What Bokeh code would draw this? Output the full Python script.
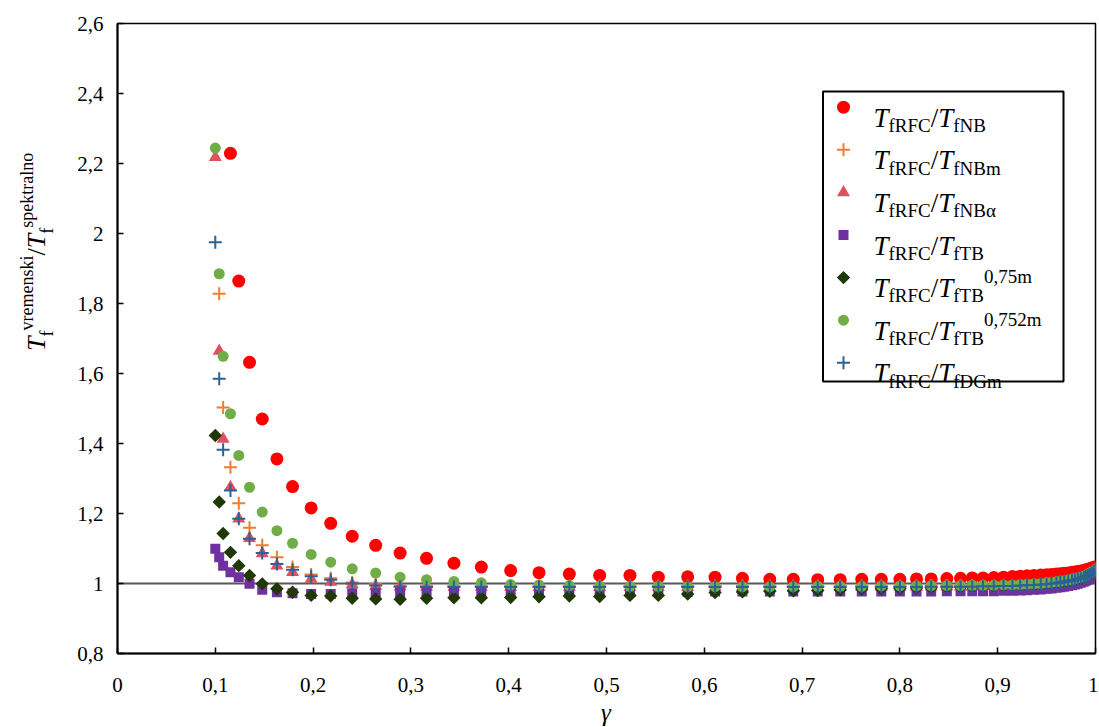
import math
import numpy as np
from bokeh.plotting import figure
from bokeh.layouts import row, column
from bokeh.models import (ColumnDataSource, Span, Label, BoxAnnotation, Div,
                          FixedTicker, CustomJSTickFormatter, Range1d)
from bokeh.embed import file_html
from bokeh.resources import INLINE

nan = float("nan")

# ---------------- data ----------------
GAMMA = [0.100, 0.104, 0.108, 0.1155, 0.124, 0.135, 0.148, 0.163, 0.179, 0.198,
         0.218, 0.240, 0.264, 0.289, 0.316, 0.344, 0.372, 0.402, 0.431, 0.462,
         0.493, 0.524, 0.553, 0.583, 0.611, 0.639, 0.667, 0.691, 0.716, 0.739,
         0.761, 0.781, 0.800, 0.817, 0.832, 0.848, 0.862, 0.874, 0.885, 0.896,
         0.906, 0.915, 0.923, 0.930, 0.937, 0.944, 0.950, 0.955, 0.960, 0.964,
         0.968, 0.972, 0.976, 0.979, 0.982, 0.985, 0.988, 0.990, 0.992, 0.994,
         0.996, 0.998, 1.000]

NB = [nan, nan, nan, 2.229, 1.864, 1.632, 1.470, 1.356, 1.277, 1.216,
      1.172, 1.135, 1.109, 1.087, 1.072, 1.058, 1.047, 1.037, 1.031, 1.027,
      1.023, 1.023, 1.018, 1.019, 1.018, 1.015, 1.012, 1.012, 1.011, 1.011,
      1.012, 1.012, 1.012, 1.013, 1.013, 1.014, 1.015, 1.016, 1.016, 1.017,
      1.018, 1.020, 1.021, 1.022, 1.023, 1.024, 1.025, 1.026, 1.027, 1.028,
      1.029, 1.030, 1.032, 1.033, 1.034, 1.036, 1.037, 1.039, 1.040, 1.042,
      1.044, 1.046, 1.048]

NBM = [nan, 1.828, 1.503, 1.332, 1.229, 1.159, 1.109, 1.075, 1.047, 1.026,
       1.015, 1.003, 0.998, 0.995, 0.994, 0.993, 0.993, 0.993, 0.993, 0.993,
       0.993, 0.993, 0.993, 0.993, 0.993, 0.993, 0.993, 0.993, 0.993, 0.993,
       0.993, 0.993, 0.993, 0.993, 0.994, 0.994, 0.994, 0.994, 0.994, 0.994,
       0.995, 0.995, 0.995, 0.996, 0.997, 0.998, 1.000, 1.001, 1.003, 1.004,
       1.006, 1.008, 1.010, 1.012, 1.014, 1.016, 1.019, 1.021, 1.024, 1.027,
       1.031, 1.035, 1.040]

NBA = [2.218, 1.664, 1.413, 1.275, 1.185, 1.129, 1.086, 1.051, 1.032, 1.013,
       1.004, 0.997, 0.993, 0.991, 0.990, 0.990, 0.990, 0.990, 0.990, 0.990,
       0.990, 0.990, 0.990, 0.990, 0.990, 0.990, 0.990, 0.990, 0.990, 0.990,
       0.990, 0.990, 0.990, 0.990, 0.991, 0.991, 0.991, 0.991, 0.992, 0.992,
       0.992, 0.992, 0.993, 0.994, 0.995, 0.996, 0.998, 0.999, 1.001, 1.002,
       1.004, 1.006, 1.008, 1.010, 1.012, 1.015, 1.017, 1.020, 1.023, 1.026,
       1.030, 1.034, 1.039]

TB = [1.099, 1.075, 1.051, 1.032, 1.018, 0.999, 0.982, 0.975, 0.972, 0.970,
      0.970, 0.972, 0.972, 0.973, 0.973, 0.973, 0.974, 0.974, 0.975, 0.975,
      0.976, 0.976, 0.976, 0.976, 0.977, 0.977, 0.977, 0.977, 0.977, 0.977,
      0.977, 0.977, 0.977, 0.977, 0.977, 0.978, 0.978, 0.978, 0.978, 0.978,
      0.979, 0.979, 0.980, 0.981, 0.982, 0.983, 0.985, 0.986, 0.988, 0.989,
      0.991, 0.993, 0.995, 0.997, 0.999, 1.002, 1.005, 1.008, 1.011, 1.015,
      1.020, 1.027, 1.035]

TB075 = [1.423, 1.233, 1.143, 1.089, 1.051, 1.023, 0.999, 0.985, 0.975, 0.966,
         0.964, 0.958, 0.956, 0.955, 0.958, 0.959, 0.959, 0.960, 0.962, 0.964,
         0.963, 0.966, 0.966, 0.970, 0.974, 0.976, 0.978, 0.979, 0.980, 0.982,
         0.984, 0.985, 0.986, 0.987, 0.988, 0.989, 0.990, 0.991, 0.992, 0.992,
         0.993, 0.994, 0.995, 0.996, 0.997, 0.998, 0.999, 1.001, 1.002, 1.004,
         1.005, 1.007, 1.009, 1.011, 1.013, 1.015, 1.018, 1.020, 1.023, 1.026,
         1.030, 1.034, 1.039]

TB0752 = [2.244, 1.885, 1.649, 1.485, 1.366, 1.275, 1.204, 1.151, 1.115, 1.083,
          1.061, 1.042, 1.030, 1.018, 1.011, 1.006, 1.002, 0.997, 0.996, 0.994,
          0.993, 0.992, 0.992, 0.991, 0.991, 0.991, 0.991, 0.991, 0.992, 0.992,
          0.992, 0.993, 0.993, 0.993, 0.994, 0.994, 0.994, 0.995, 0.995, 0.995,
          0.996, 0.996, 0.997, 0.998, 0.999, 1.000, 1.002, 1.003, 1.005, 1.006,
          1.008, 1.010, 1.012, 1.014, 1.016, 1.018, 1.021, 1.023, 1.026, 1.029,
          1.032, 1.036, 1.040]

DGM = [1.975, 1.585, 1.382, 1.266, 1.185, 1.128, 1.087, 1.056, 1.039, 1.021,
       1.011, 1.000, 0.994, 0.991, 0.990, 0.990, 0.990, 0.990, 0.990, 0.990,
       0.990, 0.990, 0.990, 0.990, 0.990, 0.990, 0.990, 0.990, 0.990, 0.990,
       0.990, 0.990, 0.990, 0.990, 0.991, 0.991, 0.991, 0.991, 0.992, 0.992,
       0.993, 0.993, 0.994, 0.995, 0.996, 0.997, 0.998, 1.000, 1.001, 1.003,
       1.005, 1.007, 1.009, 1.011, 1.013, 1.015, 1.018, 1.020, 1.023, 1.026,
       1.030, 1.034, 1.039]

X_TICKS = [0.0, 0.1, 0.2, 0.3, 0.4, 0.5, 0.6, 0.7, 0.8, 0.9, 1.0]
X_TICK_LABELS = ["0", "0,1", "0,2", "0,3", "0,4", "0,5", "0,6", "0,7", "0,8", "0,9", "1"]
Y_TICKS = [0.8, 1.0, 1.2, 1.4, 1.6, 1.8, 2.0, 2.2, 2.4, 2.6]
Y_TICK_LABELS = ["0,8", "1", "1,2", "1,4", "1,6", "1,8", "2", "2,2", "2,4", "2,6"]

X_TITLE = "γ"
# y title pieces: (text, kind) kind: i = italic main, n = normal main, sub, sup
Y_TITLE = [("T", "i"), ("f", "sub"), ("vremenski", "sup"), ("/", "n"),
           ("T", "i"), ("f", "sub"), ("spektralno", "sup")]

# legend texts: (subscript of denominator, optional superscript)
LEG_NUM_SUB = "fRFC"
LEG_SUB = ["fNB", "fNBm", "fNBα", "fTB", "fTB", "fTB", "fDGm"]
LEG_SUP = ["", "", "", "", "0,75m", "0,752m", ""]

# ---------------- styles ----------------
SERIES = [
    (NB,     dict(marker="circle", size=13, fill_color="#FF0000", line_color=None)),
    (NBM,    dict(marker="cross", size=13, line_color="#ED7D31", line_width=2)),
    (NBA,    dict(marker="triangle", size=13, fill_color="#DF5060", line_color=None)),
    (TB,     dict(marker="square", size=10, fill_color="#7030A0", line_color=None)),
    (TB075,  dict(marker="square", size=9.5, angle=math.pi / 4, fill_color="#1F3804", line_color=None)),
    (TB0752, dict(marker="circle", size=11, fill_color="#70AD47", line_color=None)),
    (DGM,    dict(marker="cross", size=13, line_color="#2A6196", line_width=2)),
]

FONT = "Liberation Serif"
TOTAL_W, TOTAL_H = 1098, 726
DIV_W = 56
FIG_H = 705
W = TOTAL_W - DIV_W
FRAME_L, FRAME_T, FRAME_R, FRAME_B = 117, 23, 1095, 653   # page pixels
B_LEFT = FRAME_L - DIV_W
B_TOP = FRAME_T
B_RIGHT = TOTAL_W - FRAME_R
B_BOTTOM = FIG_H - FRAME_B
FRAME_W = FRAME_R - FRAME_L
FRAME_H = FRAME_B - FRAME_T

p = figure(width=W, height=FIG_H, x_range=Range1d(0, 1), y_range=Range1d(0.8, 2.6),
           output_backend="svg", toolbar_location=None,
           min_border_left=B_LEFT, min_border_right=B_RIGHT,
           min_border_top=B_TOP, min_border_bottom=B_BOTTOM)
p.xgrid.visible = False
p.ygrid.visible = False
p.outline_line_color = "black"
p.outline_line_alpha = 1.0
p.outline_line_width = 1.5
p.background_fill_color = "white"
p.border_fill_color = "white"

for ax, ticks, labels in ((p.xaxis[0], X_TICKS, X_TICK_LABELS), (p.yaxis[0], Y_TICKS, Y_TICK_LABELS)):
    ax.ticker = FixedTicker(ticks=ticks)
    ax.formatter = CustomJSTickFormatter(args=dict(tv=ticks, tl=labels), code="""
        for (let i = 0; i < tv.length; i++) { if (Math.abs(tv[i] - tick) < 1e-9) return tl[i]; }
        return '';""")
    ax.axis_line_color = "black"
    ax.axis_line_width = 2
    ax.major_tick_line_color = "black"
    ax.major_tick_line_width = 1.5
    ax.major_tick_in = 6
    ax.major_tick_out = 0
    ax.minor_tick_line_color = None
    ax.major_label_text_font = FONT
    ax.major_label_text_font_size = "21px"
    ax.major_label_text_color = "black"
p.xaxis.major_label_standoff = 24
p.yaxis.major_label_standoff = 14

# horizontal reference line at 1
p.add_layout(Span(location=1.0, dimension="width", line_color="#595959", line_width=2, level="underlay"))

src = ColumnDataSource(dict(g=GAMMA, NB=NB, NBM=NBM, NBA=NBA, TB=TB, TB075=TB075, TB0752=TB0752, DGM=DGM))
names = ["NB", "NBM", "NBA", "TB", "TB075", "TB0752", "DGM"]
for name, (vals, st) in zip(names, SERIES):
    p.scatter(x="g", y=name, source=src, **st)

# ---------------- helpers for rich text (page pixel -> data) ----------------
def gx(px):
    return (px - FRAME_L) / FRAME_W

def gy(py):
    return 2.6 - (py - FRAME_T) * 1.8 / FRAME_H

W_REG = {"f": 0.333, "R": 0.667, "F": 0.556, "C": 0.667, "N": 0.722, "B": 0.667,
         "m": 0.778, "T": 0.611, "D": 0.722, "G": 0.722, "α": 0.52, ",": 0.25,
         "/": 0.278}
W_IT = {"T": 0.556}

def tw(text, size, italic):
    tab = W_IT if italic else W_REG
    return sum(tab.get(c, 0.5) for c in text) * size

def lab(px, py, text, size, italic):
    p.add_layout(Label(x=gx(px), y=gy(py), text=text, text_font=FONT,
                       text_font_size=f"{size}px",
                       text_font_style="italic" if italic else "normal",
                       text_color="black", text_align="left",
                       text_baseline="alphabetic"))

BIG, SMALL = 27, 19
SUB, SUP = 7.7, -11.7

def rich(pieces, px, py):
    pos = 0.0
    for text, size, italic, shift in pieces:
        lab(px + pos, py + shift, text, size, italic)
        pos += tw(text, size, italic)

# ---------------- legend ----------------
p.add_layout(BoxAnnotation(left=gx(822.5), right=gx(1063), top=gy(91), bottom=gy(381),
                           fill_color="white", fill_alpha=1.0, line_color="black",
                           line_alpha=1.0, line_width=2, level="underlay"))
for i, ((vals, st), sub, sup) in enumerate(zip(SERIES, LEG_SUB, LEG_SUP)):
    yc = 106.7 + 42.6 * i
    p.scatter(x=[gx(843)], y=[gy(yc)], **st)
    pieces = [("T", BIG, True, 0), (LEG_NUM_SUB, SMALL, False, SUB), ("/", BIG, False, 0),
              ("T", BIG, True, 0), (sub, SMALL, False, SUB)]
    if sup:
        pieces.append((sup, SMALL, False, SUP))
    rich(pieces, 873, yc + 10.6)

# ---------------- y title as rotated rich HTML text ----------------
span_style = {
    "i": "font-style:italic;font-size:26px;",
    "n": "font-size:26px;",
    "sub": "font-size:18px;vertical-align:-7.7px;",
    "sup": "font-size:18px;vertical-align:11.7px;",
}
inner = "".join(f'<span style="{span_style[k]}line-height:1;">{t}</span>' for t, k in Y_TITLE)
html = ('<div style="margin:0;padding:0;position:absolute;left:17px;top:152px;width:40px;height:200px;'
        'writing-mode:vertical-rl;text-orientation:sideways;transform:rotate(180deg);'
        "font-family:'Liberation Serif',serif;font-size:26px;line-height:40px;white-space:nowrap;"
        'color:#000;text-align:center;">' + inner + '</div>')
ydiv = Div(text=html, width=DIV_W, height=FIG_H, margin=0,
           styles={"overflow": "visible", "position": "relative"})

# ---------------- x title (below the canvas, overlapping slightly) ----------------
ghtml = ('<div style="margin:0;padding:0;position:absolute;left:586px;top:-5px;width:40px;'
         "text-align:center;font-family:'Liberation Serif',serif;font-style:italic;"
         'font-size:25px;line-height:25px;color:#000;">' + X_TITLE + '</div>')
gdiv = Div(text=ghtml, width=TOTAL_W, height=TOTAL_H - FIG_H, margin=0,
           styles={"overflow": "visible", "position": "relative"})

layout = column(row(ydiv, p, spacing=0), gdiv, spacing=0)
open("out.html", "w").write(file_html(layout, INLINE))
